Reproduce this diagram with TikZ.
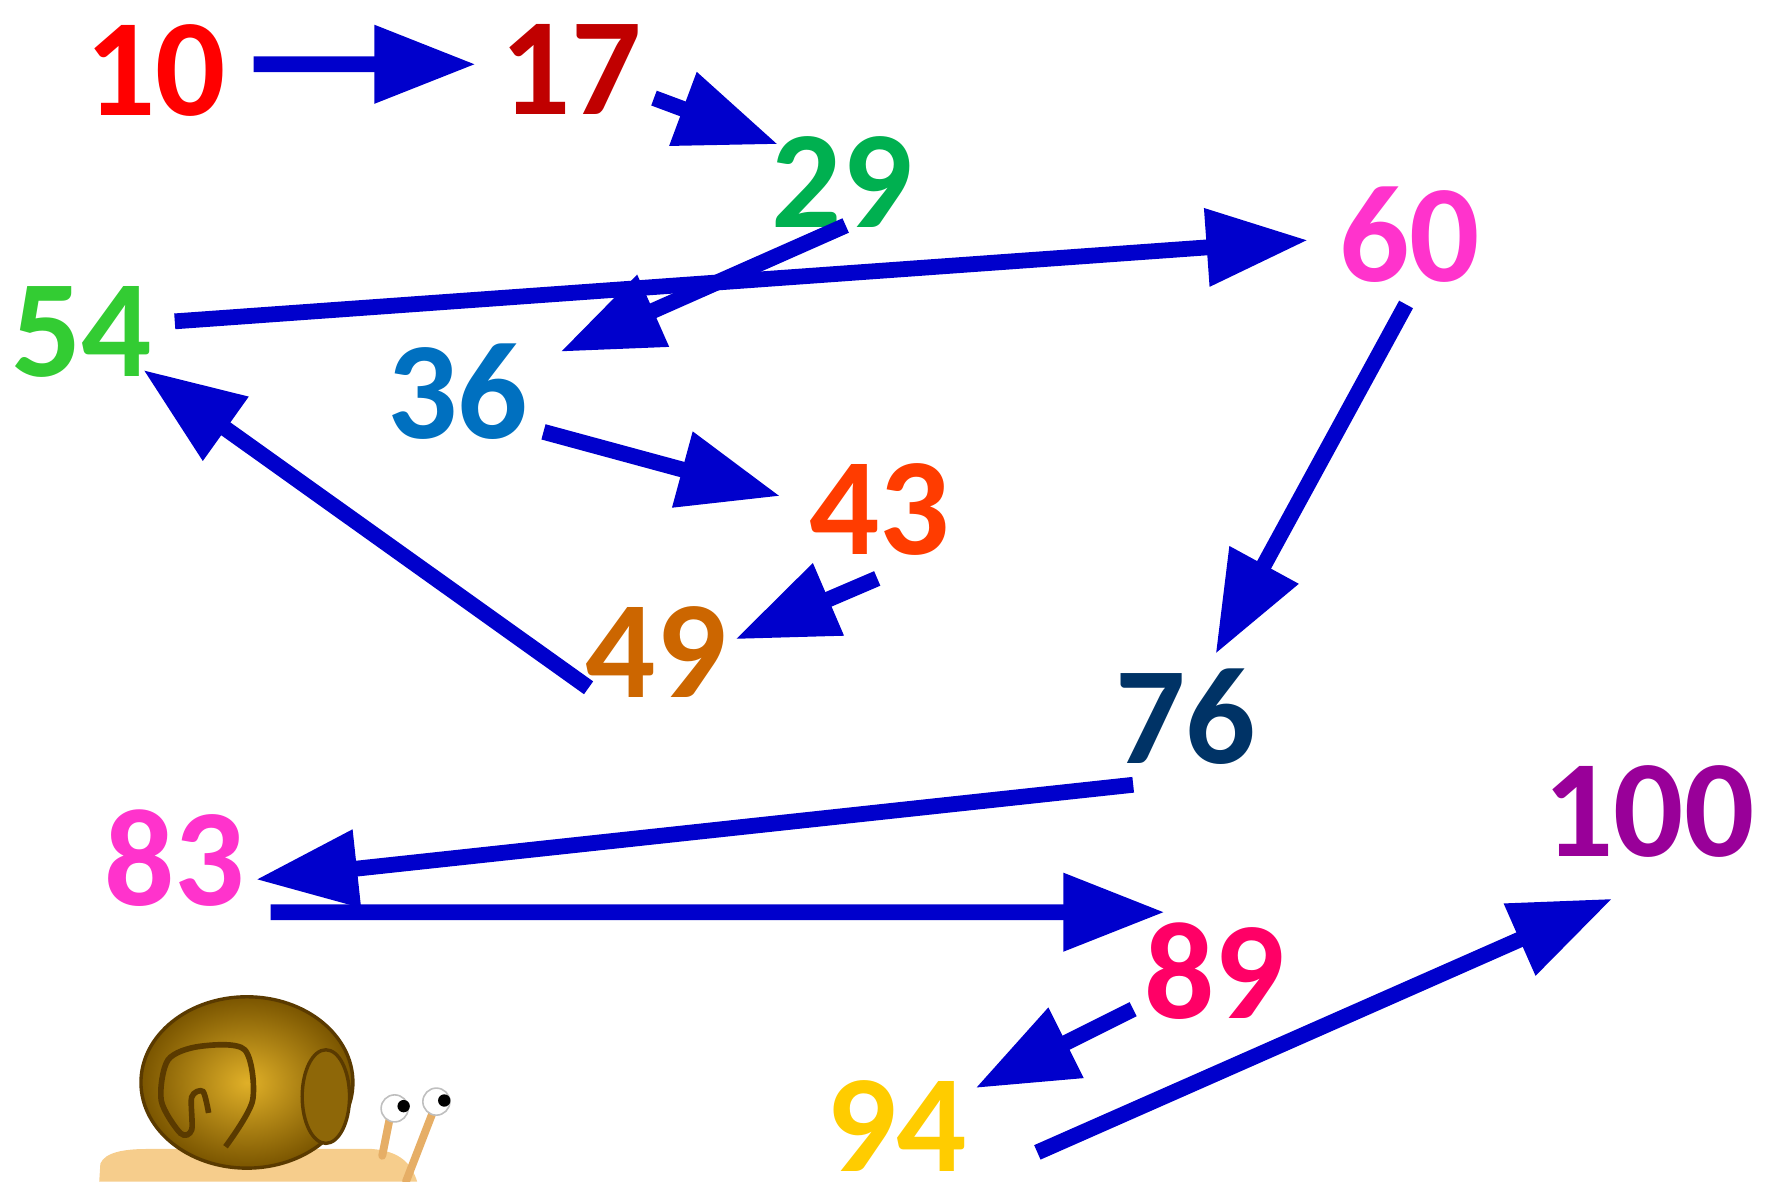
\documentclass[tikz,border=0pt]{standalone}
\usepackage{fontspec}
\setmainfont{Carlito}
\usetikzlibrary{arrows.meta,calc}
\definecolor{hopblue}{HTML}{0000CC}
\definecolor{c10}{HTML}{FF0000}
\definecolor{c17}{HTML}{C00000}
\definecolor{c29}{HTML}{00B050}
\definecolor{c36}{HTML}{0070C0}
\definecolor{c43}{HTML}{FF3C00}
\definecolor{c49}{HTML}{CC6600}
\definecolor{c54}{HTML}{33CC33}
\definecolor{c60}{HTML}{FF33CC}
\definecolor{c76}{HTML}{003366}
\definecolor{c83}{HTML}{FF33CC}
\definecolor{c89}{HTML}{FF0066}
\definecolor{c94}{HTML}{FFCC00}
\definecolor{c100}{HTML}{990099}
\definecolor{shellhi}{HTML}{E0B028}
\definecolor{shelllo}{HTML}{7A5500}
\definecolor{shellline}{HTML}{5A3A00}
\definecolor{snailbody}{HTML}{F6CD8C}
\definecolor{stalk}{HTML}{E6AE66}
\begin{document}
\begin{tikzpicture}[
    num/.style={
        inner sep=0pt,
        font=\fontsize{35}{40}\selectfont\bfseries
    },
    jump/.style={
        -{Triangle[length=0.9cm,width=0.66cm]},
        line width=0.14cm,
        draw=hopblue
    }
]
\useasboundingbox (0,0) rectangle (15.68,-10.48);

% Numeri
\node[num, text=c10] (n10) at (1.38,-0.625) {10};
\node[num, text=c17] (n17) at (5.065,-0.615) {17};
\node[num, text=c29] (n29) at (7.47,-1.615) {29};
\node[num, text=c36] (n36) at (4.06,-3.475) {36};
\node[num, text=c43] (n43) at (7.80,-4.515) {43};
\node[num, text=c49] (n49) at (5.82,-5.785) {49};
\node[num, text=c54] (n54) at (0.725,-2.945) {54};
\node[num, text=c60] (n60) at (12.50,-2.085) {60};
\node[num, text=c76] (n76) at (10.515,-6.355) {76};
\node[num, text=c83] (n83) at (1.55,-7.61) {83};
\node[num, text=c89] (n89) at (10.775,-8.61) {89};
\node[num, text=c94] (n94) at (7.95,-9.985) {94};
\node[num, text=c100] (n100) at (14.625,-7.20) {100};

% Salti
\draw[jump] ($(n10)+(0.87,0.055)$) -- ($(n17)+(-0.845,0.045)$);
\draw[jump] ($(n17)+(0.735,-0.255)$) -- ($(n29)+(-0.57,0.335)$);
\draw[jump] ($(n29)+(0.03,-0.385)$) -- ($(n36)+(0.91,0.355)$);
\draw[jump] ($(n54)+(0.825,0.095)$) -- ($(n60)+(-0.90,-0.045)$);
\draw[jump] ($(n36)+(0.76,-0.355)$) -- ($(n43)+(-0.88,0.115)$);
\draw[jump] ($(n43)+(-0.02,-0.615)$) -- ($(n49)+(0.70,0.115)$);
\draw[jump] ($(n49)+(-0.60,-0.315)$) -- ($(n54)+(0.545,-0.335)$);
\draw[jump] ($(n60)+(-0.03,-0.615)$) -- ($(n76)+(0.265,0.555)$);
\draw[jump] ($(n76)+(-0.465,-0.605)$) -- ($(n83)+(0.72,-0.19)$);
\draw[jump] ($(n83)+(0.85,-0.48)$) -- ($(n89)+(-0.445,0.52)$);
\draw[jump] ($(n89)+(-0.725,-0.34)$) -- ($(n94)+(0.70,0.335)$);
\draw[jump] ($(n94)+(1.25,-0.235)$) -- ($(n100)+(-0.325,-0.77)$);

% Lumaca
\fill[snailbody] (0.88,-10.48) -- (0.89,-10.32)
    .. controls (0.93,-10.22) and (1.10,-10.19) .. (1.30,-10.19)
    -- (3.30,-10.19) .. controls (3.55,-10.21) and (3.65,-10.32) .. (3.70,-10.48) -- cycle;
\draw[stalk, line width=0.07cm, line cap=round] (3.39,-10.25) -- (3.46,-9.90);
\draw[stalk, line width=0.07cm, line cap=round] (3.60,-10.48) -- (3.84,-9.86);
\filldraw[fill=white, draw=gray!50] (3.50,-9.83) circle (0.12);
\filldraw[fill=white, draw=gray!50] (3.87,-9.77) circle (0.12);
\fill[black] (3.58,-9.81) circle (0.055);
\fill[black] (3.94,-9.76) circle (0.055);
\shade[inner color=shellhi, outer color=shelllo, draw=shellline, line width=0.03cm]
    (2.19,-9.60) ellipse (0.94 and 0.76);
\filldraw[fill=shelllo!80!shellhi, draw=shellline, line width=0.03cm]
    (2.89,-9.725) ellipse (0.21 and 0.415);
\draw[shellline, line width=0.05cm] plot[smooth] coordinates {
    (2.00,-10.17) (2.24,-9.76) (2.17,-9.31) (1.77,-9.28) (1.49,-9.40)
    (1.43,-9.76) (1.60,-10.05) (1.70,-10.02) (1.70,-9.73) (1.80,-9.68) (1.85,-9.87)};

\end{tikzpicture}
\end{document}
